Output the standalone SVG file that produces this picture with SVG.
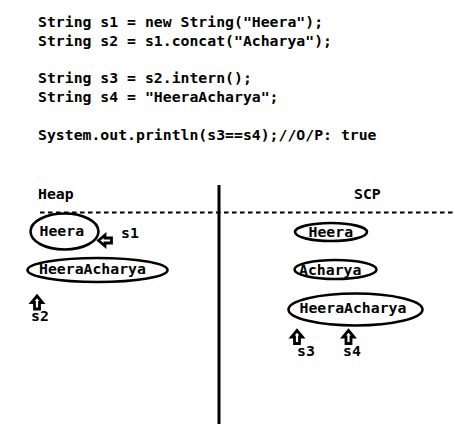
<svg xmlns="http://www.w3.org/2000/svg" width="455" height="427" viewBox="0 0 455 427">
<style>
text{font-family:"DejaVu Sans Mono","Liberation Mono",monospace;font-weight:bold;font-size:14.8px;fill:#000}
ellipse{fill:none;stroke:#000;stroke-width:2.6}
.arr{fill:#fff;stroke:#000;stroke-width:2.8;stroke-linejoin:miter}
</style>
<defs>
<path id="up" class="arr" d="M0,0 L5.5,6.5 L2.5,6.5 L2.5,13 L-2.5,13 L-2.5,6.5 L-5.5,6.5 Z"/>
</defs>
<rect width="455" height="427" fill="#fff"/>
<g id="code">
<text x="38" y="26.5">String s1 = new String("Heera");</text>
<text x="38" y="45.5">String s2 = s1.concat("Acharya");</text>
<text x="38" y="83.3">String s3 = s2.intern();</text>
<text x="38" y="101.8">String s4 = "HeeraAcharya";</text>
<text x="38" y="140">System.out.println(s3==s4);//O/P: true</text>
</g>
<g id="dividers">
<line x1="40" y1="212.5" x2="455" y2="212.5" stroke="#000" stroke-width="2" stroke-dasharray="4.5,3.5"/>
<line x1="219" y1="185" x2="219" y2="424" stroke="#000" stroke-width="3"/>
</g>
<g id="heap-title"><text x="38" y="199">Heap</text></g>
<g id="scp-title"><text x="354" y="199">SCP</text></g>
<g id="heap-heera">
<ellipse cx="64.5" cy="231.5" rx="34" ry="18"/>
<text x="39.5" y="235.5">Heera</text>
</g>
<g id="heap-heeraacharya">
<ellipse cx="97.5" cy="270" rx="70" ry="12"/>
<text x="39" y="274">HeeraAcharya</text>
</g>
<g id="scp-heera">
<ellipse cx="331" cy="232" rx="36" ry="9"/>
<text x="308.5" y="236.5">Heera</text>
</g>
<g id="scp-acharya">
<ellipse cx="335.5" cy="269.5" rx="41" ry="9.5"/>
<text x="299" y="275">Acharya</text>
</g>
<g id="scp-heeraacharya">
<ellipse cx="355.5" cy="309.5" rx="67" ry="16"/>
<text x="299.5" y="313">HeeraAcharya</text>
</g>
<g id="connectors">
<use href="#up" transform="translate(98.5,240.5) rotate(-90)"/>
<use href="#up" transform="translate(37,296)"/>
<use href="#up" transform="translate(297,330.5)"/>
<use href="#up" transform="translate(348.5,330.5)"/>
</g>
<g id="refs">
<text x="121" y="238">s1</text>
<text x="31" y="320.5">s2</text>
<text x="297" y="355.5">s3</text>
<text x="343" y="355.5">s4</text>
</g>
</svg>
